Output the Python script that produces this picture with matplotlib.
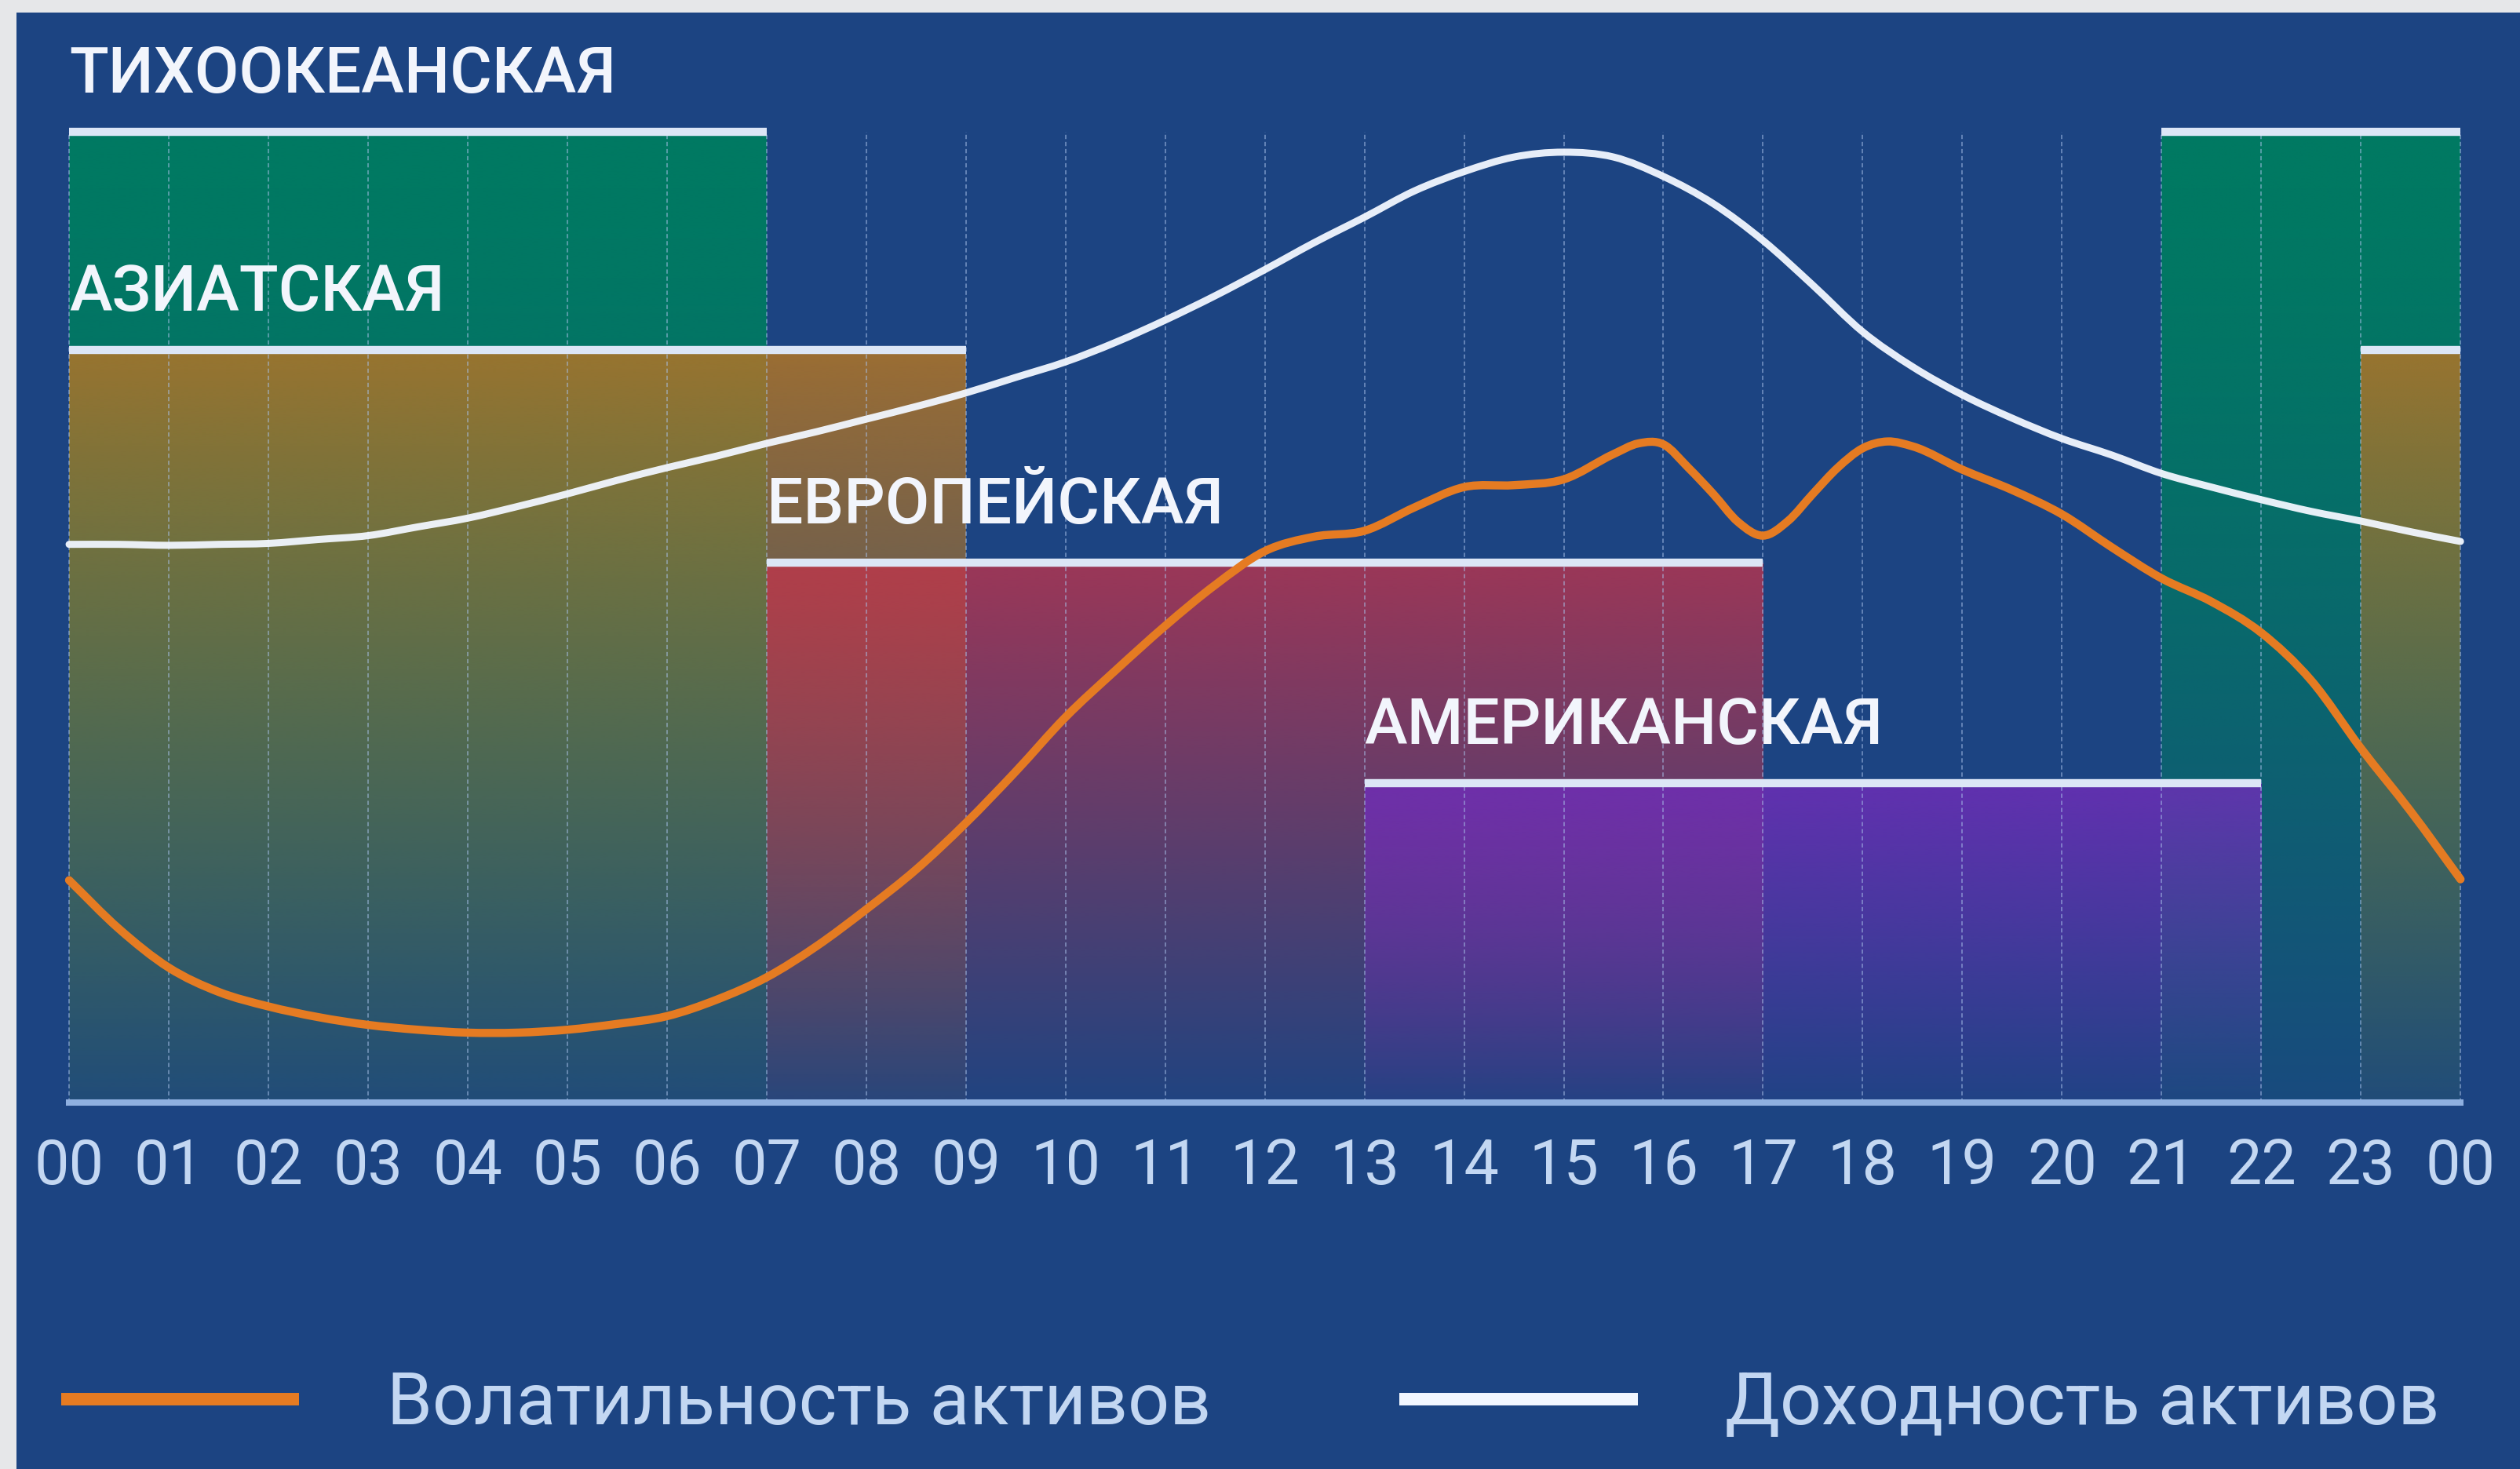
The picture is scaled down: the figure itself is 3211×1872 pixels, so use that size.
import numpy as np
import matplotlib
matplotlib.use("Agg")
import matplotlib.pyplot as plt
from matplotlib.colors import to_rgb
from matplotlib.path import Path
from matplotlib.patches import PathPatch
from matplotlib.lines import Line2D

plt.rcParams["font.family"] = ["Roboto", "DejaVu Sans"]

# trading sessions (hours, wrap around midnight when open > close)
sessions = ["ТИХООКЕАНСКАЯ", "АЗИАТСКАЯ", "ЕВРОПЕЙСКАЯ", "АМЕРИКАНСКАЯ"]
session_open = [21, 23, 7, 13]
session_close = [7, 9, 17, 22]

# x axis
tick_hours = list(range(25))
tick_labels = ["00", "01", "02", "03", "04", "05", "06", "07", "08", "09", "10", "11",
               "12", "13", "14", "15", "16", "17", "18", "19", "20", "21", "22", "23", "00"]

# asset return curve (white)
ret_hours = [0, 0.5, 1, 1.5, 2, 2.5, 3, 3.5, 4, 4.5, 5, 5.5, 6, 6.5, 7, 7.5, 8, 8.5, 9, 9.5,
             10, 10.5, 11, 11.5, 12, 12.5, 13, 13.5, 14, 14.5, 15, 15.5, 16, 16.5, 17, 17.5,
             18, 18.5, 19, 19.5, 20, 20.5, 21, 21.5, 22, 22.5, 23, 23.5, 24]
ret_values = [57.5, 57.5, 57.4, 57.5, 57.6, 58.0, 58.4, 59.3, 60.2, 61.4, 62.7, 64.1, 65.4,
              66.6, 67.9, 69.1, 70.4, 71.7, 73.1, 74.7, 76.3, 78.3, 80.6, 83.1, 85.8, 88.6,
              91.2, 93.9, 95.9, 97.4, 97.9, 97.4, 95.4, 92.6, 88.8, 84.2, 79.4, 75.8, 72.9,
              70.5, 68.4, 66.7, 64.8, 63.4, 62.1, 60.9, 59.9, 58.8, 57.8]

# asset volatility curve (orange)
vol_hours = [0, 0.5, 1, 1.5, 2, 2.5, 3, 3.5, 4, 4.5, 5, 5.5, 6, 6.5, 7, 7.5, 8, 8.5, 9, 9.5,
             10, 10.5, 11, 11.5, 12, 12.5, 13, 13.5, 14, 14.5, 15, 15.5, 15.75, 16, 16.25,
             16.5, 16.75, 17, 17.25, 17.5, 17.75, 18, 18.25, 18.5, 19, 19.5, 20, 20.5, 21,
             21.5, 22, 22.5, 23, 23.5, 24]
vol_values = [22.9, 17.9, 13.9, 11.4, 9.9, 8.8, 8.0, 7.5, 7.2, 7.2, 7.5, 8.1, 8.9, 10.6,
              12.9, 16.1, 19.9, 24.0, 28.8, 34.1, 39.7, 44.5, 49.1, 53.3, 56.8, 58.3, 58.9,
              61.3, 63.4, 63.6, 64.2, 66.8, 67.9, 67.8, 65.4, 62.7, 59.8, 58.4, 59.9, 62.7,
              65.4, 67.4, 68.1, 67.6, 65.2, 63.1, 60.6, 57.2, 54.0, 51.6, 48.4, 43.5, 36.5,
              30.0, 23.0]

legend_labels = ["Волатильность активов", "Доходность активов"]

# styling
bg = "#1c4482"
session_level = [100, 77.5, 55.6, 32.9]
session_style = [
    dict(color="#007a62", a_top=1.0, a_bot=0.12, power=1.5),
    dict(color="#ae7428", a_top=0.88, a_bot=0.06, power=0.9),
    dict(color="#c4334a", a_top=0.76, a_bot=0.03, power=1.0),
    dict(color="#702db9", a_top=0.82, a_bot=0.06, power=1.1),
]
bar_line = "#dce6f6"
text_col = "#f2f5fc"
axis_col = "#c3d7f2"
vol_col = "#e57b22"
ret_col = "#f2f7ff"


def gradient(color, a_top, a_bot, power):
    t = np.linspace(0, 1, 300)[:, None]
    rgba = np.zeros((300, 1, 4))
    rgba[..., :3] = to_rgb(color)
    rgba[..., 3] = a_top - (a_top - a_bot) * t ** power
    return rgba


def smooth_path(x, y):
    # cubic hermite through the read points, drawn as bezier segments
    x = np.asarray(x, float)
    y = np.asarray(y, float)
    m = np.gradient(y, x)
    verts = [(x[0], y[0])]
    codes = [Path.MOVETO]
    for i in range(len(x) - 1):
        d = (x[i + 1] - x[i]) / 3
        verts += [(x[i] + d, y[i] + m[i] * d), (x[i + 1] - d, y[i + 1] - m[i + 1] * d),
                  (x[i + 1], y[i + 1])]
        codes += [Path.CURVE4] * 3
    return Path(verts, codes)


W, H = 3211, 1872
fig = plt.figure(figsize=(W / 100, H / 100), dpi=100, facecolor="#e6e7e9")
ax = fig.add_axes([20.5 / W, 0, 1 - 20.5 / W, 1 - 16.4 / H])
ax.set_facecolor(bg)

for i, (name, op, cl) in enumerate(zip(sessions, session_open, session_close)):
    level = session_level[i]
    st = session_style[i]
    spans = [(op, cl)] if op < cl else [(op, 24), (0, cl)]
    for x0, x1 in spans:
        ax.imshow(gradient(**st), extent=(x0, x1, 0, level), aspect="auto",
                  origin="upper", interpolation="bilinear", zorder=1 + i * 0.1)
        ax.hlines(level, x0, x1, color=bar_line, lw=7.5, zorder=3)
    lx = 0 if op > cl else op
    ax.annotate(name, (lx, level), xytext=(0, 36), textcoords="offset points",
                ha="left", va="baseline", fontsize=59, fontweight="medium",
                color=text_col, zorder=6)

# hour grid
ax.vlines(tick_hours, 0, session_level[0], color="#a9c2ea", lw=1.3,
          linestyle=(0, (3, 2)), alpha=0.55, zorder=2)

ax.add_patch(PathPatch(smooth_path(ret_hours, ret_values), fill=False, edgecolor=ret_col,
                       lw=6.5, alpha=0.95, capstyle="round", zorder=4))
ax.add_patch(PathPatch(smooth_path(vol_hours, vol_values), fill=False, edgecolor=vol_col,
                       lw=7.5, capstyle="round", zorder=5))

# axes
ax.set_xlim(-0.532, 24.597)
ax.set_ylim(-37.75, 112.25)
for side in ["top", "left", "right"]:
    ax.spines[side].set_visible(False)
ax.spines["bottom"].set_position(("data", 0))
ax.spines["bottom"].set_bounds(0, 24)
ax.spines["bottom"].set_color("#8fb0e0")
ax.spines["bottom"].set_linewidth(5.8)
ax.set_xticks(tick_hours)
ax.set_xticklabels(tick_labels)
ax.tick_params(axis="x", length=0, pad=32, labelsize=57, labelcolor=axis_col)
ax.set_yticks([])

handles = [Line2D([], [], color=vol_col, lw=11.5, solid_capstyle="butt"),
           Line2D([], [], color=ret_col, lw=11.5, solid_capstyle="butt")]
leg = ax.legend(handles, legend_labels, loc="center left",
                bbox_to_anchor=(0.018, 0.0442), ncol=2, frameon=False, fontsize=67,
                handlelength=3.26, handletextpad=1.2, columnspacing=2.58,
                borderpad=0, borderaxespad=0)
for t in leg.get_texts():
    t.set_color(axis_col)

fig.savefig("out.png", dpi=100, facecolor=fig.get_facecolor())
